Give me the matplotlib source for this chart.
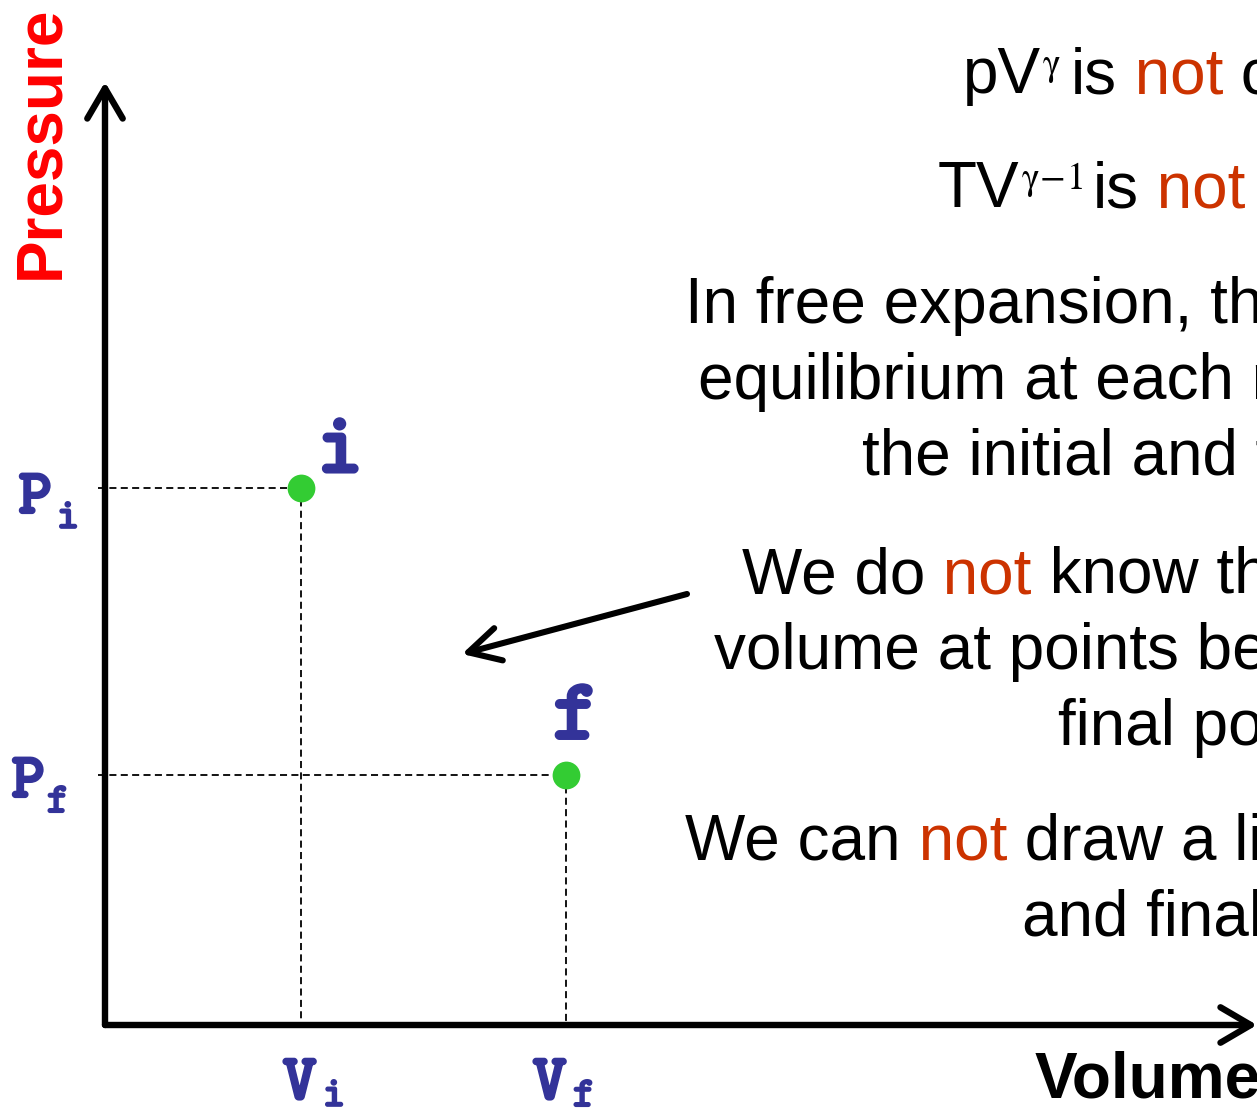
import matplotlib
matplotlib.use("Agg")
import matplotlib.pyplot as plt
import matplotlib.patheffects as pe

# ---- state points on the p-V diagram ----
state_names = ["i", "f"]
volumes = [1.96, 4.61]      # V_i, V_f
pressures = [5.37, 2.50]    # P_i, P_f
volume_ticks = ["V", "V"]
pressure_ticks = ["P", "P"]

# ---- explanatory text (segments: text, is_highlighted) ----
line_pV = [("pV", False), (r"SUP:$\mathrm{\gamma}$", False), ("is", False),
           (" not", True), (" constant", False)]
line_TV = [("TV", False), (r"SUP:$\mathrm{\gamma}{\!-\!}\mathrm{1}$", False), ("is", False),
           (" not", True), (" constant", False)]
para_equilibrium = ["In free expansion, the gas is not in",
                    "equilibrium at each moment between",
                    "the initial and final points."]
para_unknown = [[("We do", False), (" not", True), (" know the pressure and", False)],
                [("volume at points between initial and", False)],
                [("final points.", False)]]
para_noline = [[("We can", False), (" not", True), (" draw a line between initial", False)],
               [("and final points.", False)]]

W, H, DPI = 1257, 1115, 100
BLUE = "#333399"
GREEN = "#33CC33"
HILITE = "#CC3300"
SANS = "Liberation Sans"

fig = plt.figure(figsize=(W / DPI, H / DPI), dpi=DPI)
ax = fig.add_axes([0, 0, 1, 1])
ax.set_xlim(-1.05, 11.52)
ax.set_ylim(-0.90, 10.25)
ax.axis("off")


def tt(s):
    """Typewriter-style letter (slab serifs), thickened to a bold weight."""
    return r"$\mathtt{" + s + "}$"


def bold_fx(w):
    return [pe.withStroke(linewidth=w, foreground=BLUE)]


# dashed guide lines from each state to the axes
for v, p in zip(volumes, pressures):
    ax.plot([-0.07, v], [p, p], color="black", lw=1.3, ls=(0, (3.9, 2.4)), zorder=2)
    ax.plot([v, v], [p, 0], color="black", lw=1.3, ls=(0, (3.9, 2.4)), zorder=2)

# axes drawn as arrows
axis_kw = dict(arrowstyle="->,head_length=1.45,head_width=0.85", lw=4.6, color="black",
               shrinkA=0, shrinkB=0, mutation_scale=15, capstyle="round", joinstyle="round")
ax.annotate("", xy=(0, 9.43), xytext=(0, 0), arrowprops=axis_kw, zorder=3)
ax.annotate("", xy=(11.52, 0), xytext=(0, 0), arrowprops=axis_kw, zorder=3)

# state points
ax.plot(volumes, pressures, "o", ms=20, color=GREEN, mec="none", zorder=5)

# state letters
name_offsets = [(37, 16), (7, 37)]
for name, v, p, (dx, dy) in zip(state_names, volumes, pressures, name_offsets):
    ax.annotate(tt(name), xy=(v, p), xytext=(dx, dy), textcoords="offset pixels",
                ha="center", va="baseline", fontsize=61, math_fontfamily="cm",
                color=BLUE, path_effects=bold_fx(3.2))

# tick-style labels with subscripts
v_main_off = [(-1, -74), (-16, -74)]
v_sub_off = [(22, -81), (7, -81)]
for base, name, v, mo, so in zip(volume_ticks, state_names, volumes, v_main_off, v_sub_off):
    ax.annotate(tt(base), xy=(v, 0), xytext=mo, textcoords="offset pixels",
                ha="center", va="baseline", fontsize=46, math_fontfamily="cm",
                color=BLUE, path_effects=bold_fx(2.4))
    ax.annotate(tt(name), xy=(v, 0), xytext=so, textcoords="offset pixels",
                ha="left", va="baseline", fontsize=30, math_fontfamily="cm",
                color=BLUE, path_effects=bold_fx(1.7))
p_main_off = [(-70, -25), (-77, -22)]
p_sub_off = [(-48, -40), (-58, -37)]
for base, name, p, mo, so in zip(pressure_ticks, state_names, pressures, p_main_off, p_sub_off):
    ax.annotate(tt(base), xy=(0, p), xytext=mo, textcoords="offset pixels",
                ha="center", va="baseline", fontsize=45, math_fontfamily="cm",
                color=BLUE, path_effects=bold_fx(2.4))
    ax.annotate(tt(name), xy=(0, p), xytext=so, textcoords="offset pixels",
                ha="left", va="baseline", fontsize=30, math_fontfamily="cm",
                color=BLUE, path_effects=bold_fx(1.7))

# pointer arrow into the region between the states
ax.annotate("", xy=(3.57, 3.71), xytext=(5.82, 4.31),
            arrowprops=dict(arrowstyle="->,head_length=1.5,head_width=0.8", lw=4.4,
                            color="black", shrinkA=0, shrinkB=0, mutation_scale=15,
                            capstyle="round", joinstyle="round"), zorder=3)

# axis titles
fig.text(58 / W, 1 - 142 / H, "Pressure", rotation=90, rotation_mode="anchor",
         ha="center", va="baseline", fontsize=46, family=SANS, weight="bold", color="#FF0000")
fig.text(1035 / W, 1 - 1098 / H, "Volume", ha="left", va="baseline",
         fontsize=46, family=SANS, weight="bold", color="black")

renderer = fig.canvas.get_renderer()


def rich_line(x_px, base_px, pieces, size=46):
    """Draw a line made of differently coloured segments, left to right."""
    x = x_px
    for text, hot in pieces:
        if text.startswith("SUP:"):
            x += 1
            t = fig.text(x / W, 1 - (base_px - 18) / H, text[4:],
                         ha="left", va="baseline", fontsize=27,
                         math_fontfamily="stix", color="black")
            x += t.get_window_extent(renderer).width + 10
        else:
            t = fig.text(x / W, 1 - base_px / H, text, ha="left", va="baseline",
                         fontsize=size, family=SANS,
                         color=HILITE if hot else "black")
            x += t.get_window_extent(renderer).width


rich_line(963, 93, line_pV)
rich_line(938, 207, line_TV)
for (x, b), s in zip([(685, 323), (698, 399), (862, 475)], para_equilibrium):
    rich_line(x, b, [(s, False)])
for (x, b), pcs in zip([(742, 593), (714, 669), (1058, 745)], para_unknown):
    rich_line(x, b, pcs)
for (x, b), pcs in zip([(685, 860), (1022, 936)], para_noline):
    rich_line(x, b, pcs)

fig.savefig("out.png", dpi=DPI)
